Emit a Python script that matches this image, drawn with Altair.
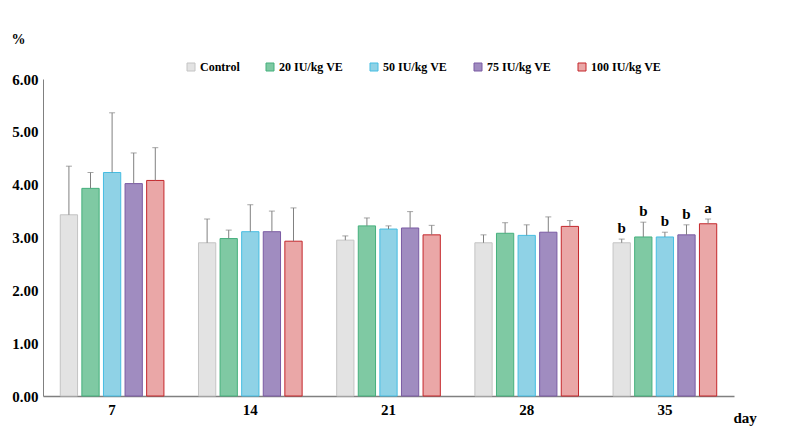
import altair as alt
import pandas as pd

days = ["7", "14", "21", "28", "35"]
groups = ["Control", "20 IU/kg VE", "50 IU/kg VE", "75 IU/kg VE", "100 IU/kg VE"]

mean_control = [3.43, 2.90, 2.95, 2.90, 2.90]
mean_20 = [3.93, 2.98, 3.22, 3.08, 3.01]
mean_50 = [4.23, 3.11, 3.16, 3.04, 3.01]
mean_75 = [4.02, 3.11, 3.18, 3.10, 3.05]
mean_100 = [4.08, 2.93, 3.05, 3.21, 3.26]

upper_control = [4.35, 3.35, 3.03, 3.05, 2.97]
upper_20 = [4.23, 3.14, 3.37, 3.28, 3.29]
upper_50 = [5.36, 3.62, 3.22, 3.24, 3.10]
upper_75 = [4.60, 3.50, 3.49, 3.39, 3.24]
upper_100 = [4.70, 3.56, 3.23, 3.32, 3.35]

letters_day35 = ["b", "b", "b", "b", "a"]

fills = ["#e3e3e3", "#7fc9a3", "#8fd2e6", "#a08cc0", "#eaa7a7"]
strokes = ["#c4c4c4", "#45b07d", "#45bde2", "#7a5aa3", "#c4262a"]

means = [mean_control, mean_20, mean_50, mean_75, mean_100]
uppers = [upper_control, upper_20, upper_50, upper_75, upper_100]

rows = []
for gi, g in enumerate(groups):
    for di, d in enumerate(days):
        rows.append({
            "day": d, "group": g,
            "mean": means[gi][di], "upper": uppers[gi][di],
            "letter": letters_day35[gi] if d == "35" else "",
        })
df = pd.DataFrame(rows)

FONT = "Liberation Serif"

x_enc = alt.X("day:N", sort=days,
              scale=alt.Scale(paddingInner=0.25, paddingOuter=0.125),
              axis=alt.Axis(title="day", labelAngle=0, ticks=False,
                            labelFont=FONT, labelFontSize=15, labelFontWeight="bold",
                            labelColor="black", labelPadding=6,
                            domainColor="#808080", domainWidth=1.5,
                            titleFont=FONT, titleFontSize=15, titleFontWeight="bold",
                            titleX=690, titleY=21, titleAlign="left",
                            titleBaseline="middle"))
xo_enc = alt.XOffset("group:N", sort=groups,
                     scale=alt.Scale(paddingInner=0.2, paddingOuter=0))
y_scale = alt.Scale(domain=[0, 6])

base = alt.Chart(df)

bars = base.mark_bar(strokeWidth=1).encode(
    x=x_enc,
    xOffset=xo_enc,
    y=alt.Y("mean:Q", scale=y_scale,
            axis=alt.Axis(title="%", values=[0, 1, 2, 3, 4, 5, 6], format=".2f",
                          grid=False, ticks=False, domainColor="#808080",
                          labelFont=FONT, labelFontSize=15, labelFontWeight="bold",
                          labelColor="black", labelPadding=5,
                          titleFont=FONT, titleFontSize=14, titleFontWeight="bold",
                          titleAngle=0, titleX=-25, titleY=-40,
                          titleAlign="center", titleBaseline="middle")),
    fill=alt.Fill("group:N", sort=groups,
                  scale=alt.Scale(domain=groups, range=fills),
                  legend=alt.Legend(title=None, orient="none", legendX=142, legendY=-18,
                                    direction="horizontal", symbolType="square",
                                    symbolSize=64, symbolStrokeWidth=1,
                                    labelFont=FONT, labelFontSize=12,
                                    labelFontWeight="bold", labelColor="black",
                                    columnPadding=24, padding=0, labelOffset=3)),
    stroke=alt.Stroke("group:N", sort=groups,
                      scale=alt.Scale(domain=groups, range=strokes)),
)

err = base.mark_rule(color="#808080", strokeWidth=1).encode(
    x=x_enc, xOffset=xo_enc,
    y=alt.Y("mean:Q", scale=y_scale), y2="upper:Q",
)

caps = base.mark_tick(color="#808080", thickness=1, size=6, orient="horizontal").encode(
    x=x_enc, xOffset=xo_enc,
    y=alt.Y("upper:Q", scale=y_scale),
)

letters = base.mark_text(font=FONT, fontSize=15, fontWeight="bold", color="black",
                         baseline="bottom", dy=-3).encode(
    x=x_enc, xOffset=xo_enc,
    y=alt.Y("upper:Q", scale=y_scale),
    text="letter:N",
)

chart = alt.layer(bars, err, caps, letters).properties(
    width=691, height=317,
    background="white",
    autosize=alt.AutoSizeParams(type="none"),
    padding={"left": 35, "top": 71, "right": 45, "bottom": 40},
).configure_view(strokeWidth=0)

chart.save("out.html", embed_options={"renderer": "svg", "actions": False})
